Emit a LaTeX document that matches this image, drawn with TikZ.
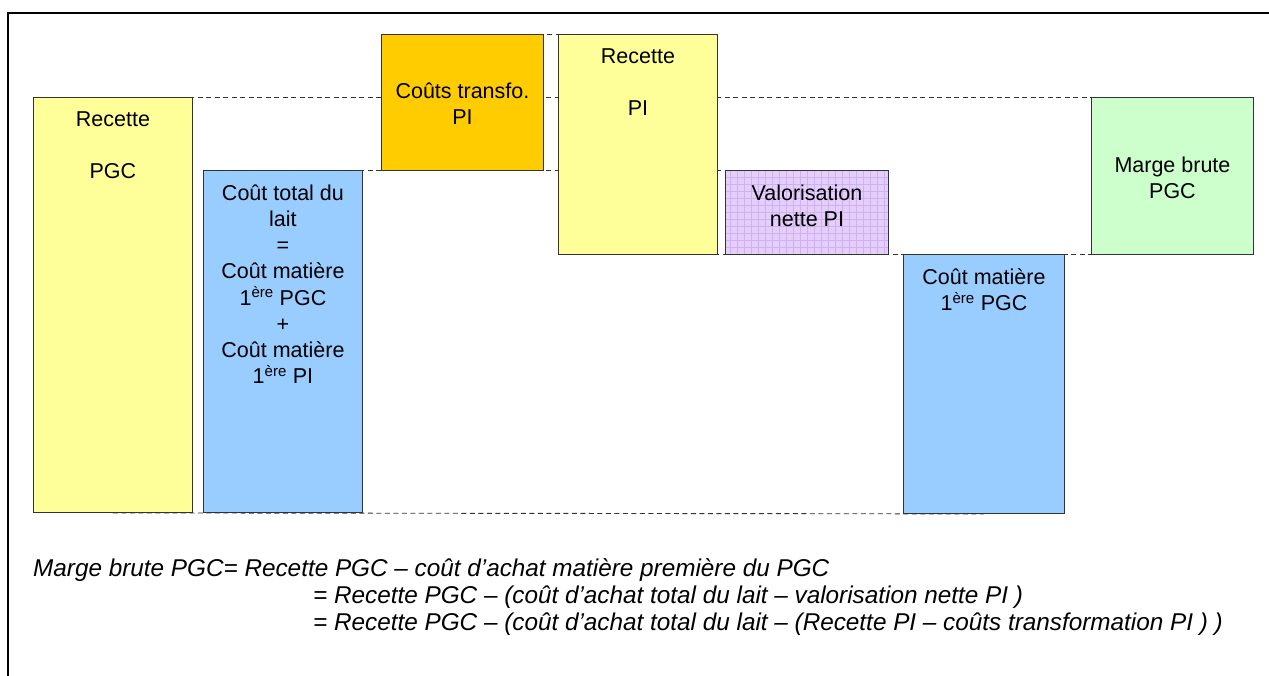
\documentclass[tikz,border=0pt]{standalone}
\usepackage{fontspec}
\setmainfont{Liberation Sans}
\pgfdeclarelayer{background}
\pgfsetlayers{background,main}

\definecolor{yellowbox}{HTML}{FFFF99}
\definecolor{bluebox}{HTML}{99CCFF}
\definecolor{orangebox}{HTML}{FFCC00}
\definecolor{greenbox}{HTML}{CCFFCC}
\definecolor{lilacbox}{HTML}{E4CFFB}
\definecolor{lilacline}{HTML}{D0B0F0}

\begin{document}
\begin{tikzpicture}[x=1pt,y=-1pt,
  box/.style={draw=black!80, line width=0.9pt, rectangle, inner sep=0pt, anchor=north west},
  hatched/.style={path picture={\draw[lilacline, line width=0.6pt, step=7pt]
      (path picture bounding box.south west) grid (path picture bounding box.north east);}},
  boxtext/.style={align=center, inner sep=0pt, font=\fontsize{21.5}{26.2}\selectfont},
  guide/.style={draw=black!80, line width=0.9pt, dash pattern=on 5pt off 3.5pt},
  formula/.style={anchor=base west, inner sep=0pt, font=\fontsize{24.3}{27}\selectfont\itshape},
  frameline/.style={line width=1.6pt, black}]

\useasboundingbox (0,0) rectangle (1269,676);

% outer frame (top and left edges)
\begin{scope}
  \clip (0,0) rectangle (1269,676);
  \coordinate (fr-bl) at (8,700);
  \coordinate (fr-tl) at (8,13);
  \coordinate (fr-tr) at (1290,13);
  \draw[frameline] (fr-bl) -- (fr-tl) -- (fr-tr);
\end{scope}

% bars
\node[box, fill=yellowbox, minimum width=159pt, minimum height=415pt] (rpgc) at (33,97) {};
\node[box, fill=bluebox,   minimum width=159pt, minimum height=342pt] (ctl)  at (203,170) {};
\node[box, fill=orangebox, minimum width=162pt, minimum height=136pt] (ct)   at (381,34) {};
\node[box, fill=yellowbox, minimum width=159pt, minimum height=220pt] (rpi)  at (558,34) {};
\node[box, fill=lilacbox, hatched, minimum width=163pt, minimum height=84pt] (val) at (725,170) {};
\node[box, fill=bluebox,   minimum width=161pt, minimum height=259pt] (cm)   at (903,254) {};
\node[box, fill=greenbox,  minimum width=162pt, minimum height=157pt] (mb)   at (1091,97) {};

% dashed level lines behind the bars
\begin{pgfonlayer}{background}
  \draw[guide] (ct.north)   -- (rpi.north);
  \draw[guide] (rpgc.north) -- (mb.north);
  \draw[guide] (ctl.north)  -- (val.north);
  \draw[guide] (rpi.south)  -- (mb.south);
  \draw[guide] (rpgc.south) -- (cm.south);
\end{pgfonlayer}

% bar labels
\node[boxtext, anchor=north] (rpgc-t) at ([yshift=-14.5pt]rpgc.north) {Recette\\[26.2pt]PGC};
\node[boxtext, anchor=north] (ctl-t) at ([yshift=-14.5pt]ctl.north)
  {Coût total du\\lait\\=\\Coût matière\\1\textsuperscript{ère} PGC\\+\\Coût matière\\1\textsuperscript{ère} PI};
\node[boxtext] (ct-t) at ([yshift=-1.5pt]ct.center) {Coûts transfo.\\PI};
\node[boxtext, anchor=north] (rpi-t) at ([yshift=-14.5pt]rpi.north) {Recette\\[26.2pt]PI};
\node[boxtext, anchor=north] (val-t) at ([yshift=-14.5pt]val.north) {Valorisation\\nette PI};
\node[boxtext, anchor=north] (cm-t) at ([yshift=-14.5pt]cm.north) {Coût matière\\1\textsuperscript{ère} PGC};
\node[boxtext] (mb-t) at ([yshift=-1.5pt]mb.center) {Marge brute\\PGC};

% formula
\node[formula] (f1) at (33,576) {Marge brute PGC= Recette PGC – coût d’achat matière première du PGC};
\node[formula] (f2) at (313,603) {= Recette PGC – (coût d’achat total du lait – valorisation nette PI )};
\node[formula] (f3) at (313,630) {= Recette PGC – (coût d’achat total du lait – (Recette PI – coûts transformation PI ) )};
\end{tikzpicture}
\end{document}
